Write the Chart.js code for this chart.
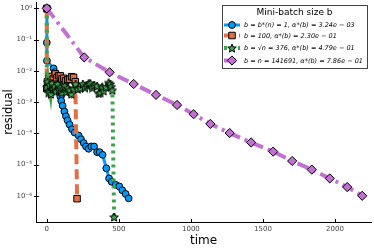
<!DOCTYPE html>
<html>
<head>
<meta charset="utf-8">
<script src="https://cdn.jsdelivr.net/npm/chart.js@4"></script>
<style>
  html, body { margin: 0; padding: 0; background: #fff; }
  #wrap { width: 374px; height: 249px; }
</style>
</head>
<body>
<div id="wrap"><canvas id="chart" width="374" height="249"></canvas></div>
<script>
// b = b*(n) = 1
const blueX = [0, 0, 1, 47, 55, 62, 70, 78, 86, 94, 100, 110, 122, 133, 144, 158, 175, 193, 221, 237, 256, 272, 290, 309, 328, 349, 367, 387, 413, 432, 450, 478, 503, 524, 547, 568];
const blueY = [1, 0.08, 0.021, 0.012, 9e-3, 6e-3, 4e-3, 2.8e-3, 2e-3, 1.5e-3, 1.1e-3, 7.6e-4, 5e-4, 3.5e-4, 2.6e-4, 1.9e-4, 1.36e-4, 1.06e-4, 8.5e-5, 6.5e-5, 4.9e-5, 3.8e-5, 3.2e-5, 3.8e-5, 3.8e-5, 2.5e-5, 2.5e-5, 2.05e-5, 7.6e-6, 3.6e-6, 2.8e-6, 2.25e-6, 2e-6, 1.5e-6, 1.15e-6, 8.3e-7];

// b = 100
const orangeX = [0, 0, 5, 12, 17, 25, 35, 45, 59, 70, 82, 94, 105, 117, 130, 145, 158, 172, 186, 198, 210];
const orangeY = [1, 2.7e-3, 4.5e-3, 3e-3, 6.6e-3, 5e-3, 4e-3, 5.5e-3, 8e-3, 6e-3, 7e-3, 6.9e-3, 5.5e-3, 5.8e-3, 4.8e-3, 5.2e-3, 5.4e-3, 6.5e-3, 6.2e-3, 4.5e-3, 8.1e-7];

// b = sqrt(n) = 376
const greenX = [0, 0, 5, 12, 20, 28, 36, 45, 55, 65, 75, 85, 95, 105, 115, 125, 135, 145, 158, 170, 185, 200, 215, 233, 250, 265, 280, 290, 302, 315, 330, 349, 360, 372, 385, 394, 410, 429, 441, 448, 455, 467];
const greenY = [1, 3e-3, 4.5e-3, 2e-3, 3.5e-3, 1.8e-3, 4e-3, 2.6e-3, 3.2e-3, 2.2e-3, 3.8e-3, 2.5e-3, 3e-3, 2e-3, 2.7e-3, 3.3e-3, 2.1e-3, 2.8e-3, 2.4e-3, 1.8e-3, 2.7e-3, 3.8e-3, 2.6e-3, 2.8e-3, 3.8e-3, 2.9e-3, 3.4e-3, 4e-3, 4e-3, 2.9e-3, 3.5e-3, 3.3e-3, 1.9e-3, 2e-3, 3e-3, 2.3e-3, 3e-3, 4.2e-3, 3.8e-3, 3.1e-3, 2.4e-3, 2.1e-7];

// b = n = 141691
const purpleX = [0, 260, 436, 603, 758, 904, 1019, 1135, 1269, 1418, 1571, 1703, 1839, 1964, 2085, 2189];
const purpleY = [1, 2.7e-2, 9e-3, 3.8e-3, 1.7e-3, 8.1e-4, 4.1e-4, 2e-4, 1.02e-4, 5.1e-5, 2.6e-5, 1.3e-5, 6.9e-6, 3.6e-6, 1.9e-6, 1e-6];

const legendTitle = 'Mini-batch size b';
const labels = [
  'b = b*(n) = 1, α*(b) = 3.24e − 03',
  'b = 100, α*(b) = 2.30e − 01',
  'b = √n = 376, α*(b) = 4.79e − 01',
  'b = n = 141691, α*(b) = 7.86e − 01'
];
const xTicks = [0, 500, 1000, 1500, 2000];
const yTicks = [1e-6, 1e-5, 1e-4, 1e-3, 1e-2, 1e-1, 1];

const blue = '#009af9', orange = '#e26f46', green = '#3ea44e', purple = '#c271d2';

function pts(xs, ys) {
  return xs.map((x, i) => ({ x: x, y: ys[i] }));
}

// filled star marker
function makeStar(size) {
  const c = document.createElement('canvas');
  c.width = size; c.height = size;
  const ctx = c.getContext('2d');
  const cx = size / 2, cy = size / 2 + 0.5, R = size / 2 - 0.5, r = R * 0.45;
  ctx.beginPath();
  for (let i = 0; i < 10; i++) {
    const a = -Math.PI / 2 + i * Math.PI / 5;
    const rr = i % 2 === 0 ? R : r;
    ctx.lineTo(cx + rr * Math.cos(a), cy + rr * Math.sin(a));
  }
  ctx.closePath();
  ctx.fillStyle = green;
  ctx.fill();
  ctx.lineWidth = 1;
  ctx.strokeStyle = '#000';
  ctx.stroke();
  return c;
}
const star = makeStar(10);

const sup = { '-': '⁻', '0': '⁰', '1': '¹', '2': '²', '3': '³', '4': '⁴', '5': '⁵', '6': '⁶' };
function powLabel(v) {
  const e = String(Math.round(Math.log10(v)));
  return '10' + e.split('').map(ch => sup[ch]).join('');
}

// small tick marks across the axis lines
const axisTicks = {
  id: 'axisTicks',
  afterDraw(chart) {
    const ctx = chart.ctx, a = chart.chartArea;
    const xs = chart.scales.x, ys = chart.scales.y;
    ctx.save();
    ctx.strokeStyle = '#000';
    ctx.lineWidth = 1;
    ctx.beginPath();
    xTicks.forEach(v => {
      const px = Math.round(xs.getPixelForValue(v)) + 0.5;
      ctx.moveTo(px, a.bottom + 1); ctx.lineTo(px, a.bottom - 3);
    });
    yTicks.forEach(v => {
      const py = Math.round(ys.getPixelForValue(v)) + 0.5;
      ctx.moveTo(a.left - 2, py); ctx.lineTo(a.left + 3, py);
    });
    ctx.stroke();
    ctx.restore();
  }
};

const boxLegend = {
  id: 'boxLegend',
  afterDraw(chart) {
    const ctx = chart.ctx;
    const x0 = 222, y0 = 5, w = 145, h = 63;
    ctx.save();
    ctx.fillStyle = '#fff';
    ctx.fillRect(x0, y0, w, h);
    ctx.strokeStyle = '#444';
    ctx.lineWidth = 1;
    ctx.strokeRect(x0 + 0.5, y0 + 0.5, w, h);
    ctx.fillStyle = '#000';
    ctx.font = '9px "DejaVu Sans"';
    ctx.textAlign = 'center';
    ctx.textBaseline = 'middle';
    ctx.fillText(legendTitle, x0 + w / 2, 13);
    // fit the longest label into the box
    ctx.font = 'italic 10px "DejaVu Sans"';
    const size = 10 * 119 / ctx.measureText(labels[3]).width;
    const rows = [25, 35.5, 48, 60.5];
    chart.data.datasets.forEach((ds, i) => {
      const y = rows[i];
      ctx.save();
      ctx.strokeStyle = ds.borderColor;
      ctx.lineWidth = ds.borderWidth;
      ctx.setLineDash(ds.borderDash || []);
      ctx.beginPath();
      ctx.moveTo(224, y); ctx.lineTo(240, y);
      ctx.stroke();
      ctx.restore();
      ctx.save();
      ctx.fillStyle = ds.pointBackgroundColor;
      ctx.strokeStyle = '#000';
      ctx.lineWidth = 1;
      Chart.helpers.drawPoint(ctx, { pointStyle: ds.pointStyle, rotation: 0, borderWidth: 1, radius: ds.pointRadius }, 232, y);
      ctx.restore();
      ctx.fillStyle = '#000';
      ctx.font = 'italic ' + size.toFixed(2) + 'px "DejaVu Sans"';
      ctx.textAlign = 'left';
      ctx.fillText(labels[i], 244, y + 0.5);
    });
    ctx.restore();
  }
};

function series(label, xs, ys, color, opts) {
  return Object.assign({
    label: label,
    data: pts(xs, ys),
    showLine: true,
    borderColor: color,
    backgroundColor: color,
    pointBackgroundColor: color,
    pointBorderColor: '#000',
    pointBorderWidth: 1,
    tension: 0
  }, opts);
}

new Chart(document.getElementById('chart'), {
  type: 'scatter',
  data: {
    datasets: [
      series(labels[0], blueX, blueY, blue, { borderWidth: 3, pointStyle: 'circle', pointRadius: 3.4, order: 3 }),
      series(labels[1], orangeX, orangeY, orange, { borderWidth: 4, borderDash: [10, 5], pointStyle: 'rect', pointRadius: 4.6, order: 2 }),
      series(labels[2], greenX, greenY, green, { borderWidth: 4, borderDash: [3, 4], pointStyle: star, pointRadius: 5, order: 1 }),
      series(labels[3], purpleX, purpleY, purple, { borderWidth: 4, borderDash: [12, 5, 3, 5], pointStyle: 'rectRot', pointRadius: 4.6, order: 0 })
    ]
  },
  options: {
    responsive: false,
    animation: false,
    devicePixelRatio: 1,
    layout: { autoPadding: false, padding: { top: 2, right: 3, left: 0, bottom: 0 } },
    plugins: { legend: { display: false }, tooltip: { enabled: false } },
    scales: {
      x: {
        type: 'linear',
        min: -75,
        max: 2250,
        grid: { display: false, tickLength: 0 },
        border: { display: true, color: '#000', width: 1 },
        afterBuildTicks: axis => { axis.ticks = xTicks.map(v => ({ value: v })); },
        afterFit: axis => { axis.height = 27; axis.paddingLeft = 0; axis.paddingRight = 0; },
        ticks: { color: '#444', font: { family: 'DejaVu Sans', size: 7 }, padding: 3, maxRotation: 0, callback: v => String(v) },
        title: { display: true, text: 'time', color: '#000', font: { family: 'DejaVu Sans', size: 12 }, padding: { top: 0, bottom: 1 } }
      },
      y: {
        type: 'logarithmic',
        min: 1.45e-7,
        max: 1.6,
        grid: { display: false, tickLength: 0 },
        border: { display: true, color: '#000', width: 1 },
        afterBuildTicks: axis => { axis.ticks = yTicks.map(v => ({ value: v })); },
        afterFit: axis => { axis.width = 36; axis.paddingTop = 0; axis.paddingBottom = 0; },
        ticks: { color: '#444', font: { family: 'DejaVu Sans', size: 7 }, padding: 4, callback: v => powLabel(v) },
        title: { display: true, text: 'residual', color: '#000', font: { family: 'DejaVu Sans', size: 11.5 }, padding: { top: 2, bottom: 0 } }
      }
    }
  },
  plugins: [axisTicks, boxLegend]
});
</script>
</body>
</html>
